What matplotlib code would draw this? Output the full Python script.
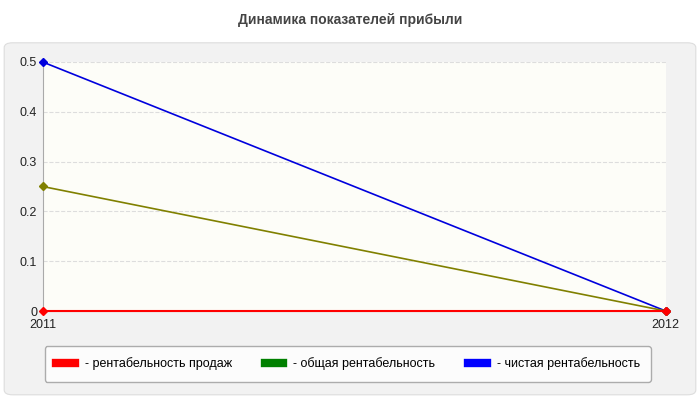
import matplotlib
matplotlib.use("Agg")
import matplotlib.pyplot as plt
from matplotlib.patches import FancyBboxPatch
from matplotlib.lines import Line2D

plt.rcParams["font.family"] = ["Liberation Sans", "DejaVu Sans"]

years = ["2011", "2012"]
sales = [0, 0]
general = [0.25, 0]
net = [0.5, 0]
labels = ["- рентабельность продаж", "- общая рентабельность", "- чистая рентабельность"]

fig = plt.figure(figsize=(7, 4), dpi=100)
fig.patch.set_facecolor("white")
bg = FancyBboxPatch((0.006, 0.013), 0.988, 0.88, boxstyle="round,pad=0,rounding_size=0.012",
                    transform=fig.transFigure, facecolor="#f2f2f2", edgecolor="#dddddd", lw=0.8, zorder=-10)
fig.patches.append(bg)
fig.text(0.5, 0.95, "Динамика показателей прибыли", ha="center", va="center",
         fontsize=10, fontweight="bold", color="#444444")

ax = fig.add_axes([0.061, 0.2225, 0.89, 0.6225])
ax.set_facecolor("#fdfdf8")
x = [0, 1]
ax.plot(x, net, color="#0000dd", lw=1.2, marker="D", ms=4, clip_on=False, zorder=3)
ax.plot(x, general, color="#808000", lw=1.2, marker="D", ms=4, clip_on=False, zorder=3)
ax.plot(x, sales, color="#ff0000", lw=1.5, marker="D", ms=4, clip_on=False, zorder=4)
ax.set_xlim(0, 1)
ax.set_ylim(0, 0.5)
ax.set_xticks(x)
ax.set_xticklabels(years)
ax.set_yticks([0, 0.1, 0.2, 0.3, 0.4, 0.5])
ax.set_yticklabels(["0", "0.1", "0.2", "0.3", "0.4", "0.5"])
ax.grid(axis="y", color="#dddddd", ls="--", lw=0.8)
for s in ["top", "right"]:
    ax.spines[s].set_visible(False)
ax.spines["left"].set_color("#aaaaaa")
ax.spines["bottom"].set_color("#aaaaaa")
ax.tick_params(length=0, labelsize=9, colors="#222222")
ax.tick_params(axis="x", pad=6)
ax.tick_params(axis="y", pad=4)

handles = [Line2D([0], [0], color=c, lw=6) for c in ["#ff0000", "#008000", "#0000ff"]]
leg = fig.legend(handles, labels, loc="center", bbox_to_anchor=(0.497, 0.09), ncol=3,
                 fontsize=9, frameon=True, handlelength=1.5, columnspacing=2.6,
                 borderpad=0.9, fancybox=True)
leg.get_frame().set_edgecolor("#999999")
leg.get_frame().set_facecolor("white")
fig.savefig("out.png", dpi=100)
